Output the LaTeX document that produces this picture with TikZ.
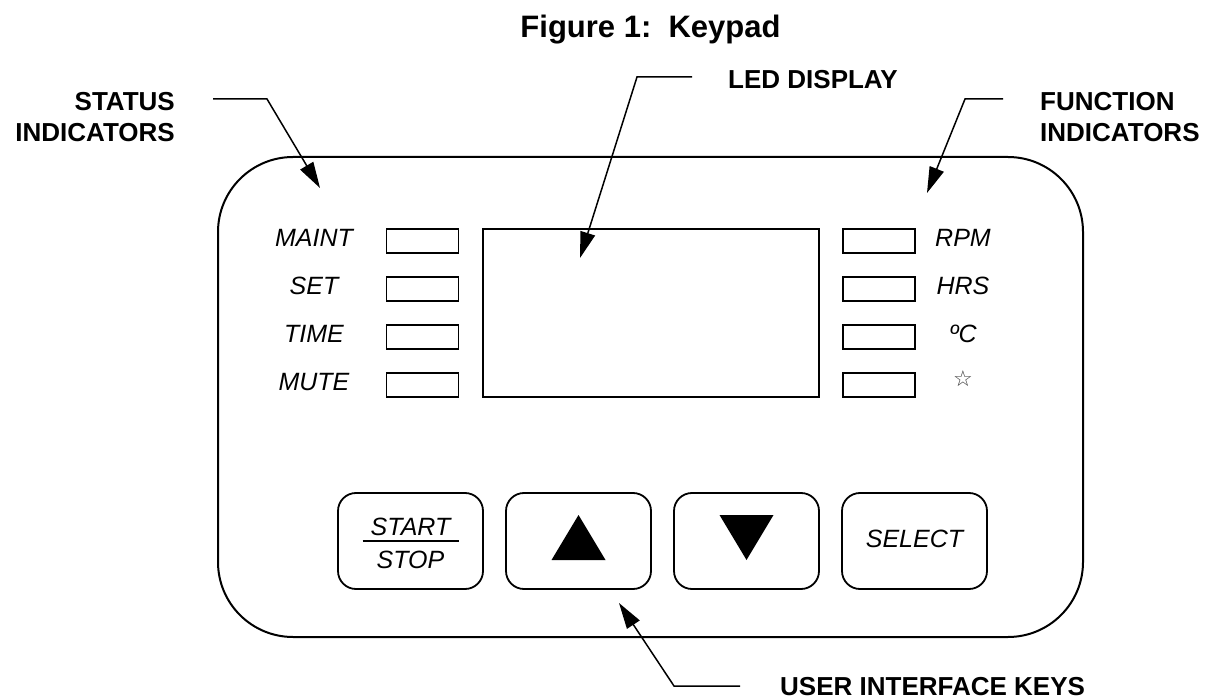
\documentclass[tikz,border=0pt]{standalone}
\usepackage{fontspec}
\setmainfont{Liberation Sans}
\newfontfamily\symfont{DejaVu Sans}
\usetikzlibrary{arrows.meta}
\begin{document}
\begin{tikzpicture}[x=1pt,y=-1pt,
  lbl/.style={font=\fontsize{26}{31}\selectfont\bfseries, inner sep=0pt},
  ital/.style={font=\fontsize{25}{29}\selectfont\itshape, inner sep=0pt, anchor=base},
  ind/.style={draw, line width=1.8pt, minimum width=72pt, minimum height=24pt, inner sep=0pt},
  keybox/.style={draw, line width=1.8pt, rounded corners=18pt, minimum width=145pt, minimum height=96pt, inner sep=0pt},
  lead/.style={line width=1.5pt, -{Triangle[length=26pt,width=15pt]}},
]
\useasboundingbox (0,0) rectangle (1207,700);
\fill[white] (0,0) rectangle (1207,700);

% title
\node[font=\fontsize{31}{37}\selectfont\bfseries, anchor=base, inner sep=0pt] (title) at (650.5,38) {Figure 1:\ \ Keypad};

% panel
\node[draw, line width=2pt, rounded corners=75pt, minimum width=865pt, minimum height=480pt, inner sep=0pt] (panel) at (650.5,397) {};

% LED display
\node[draw, line width=1.8pt, minimum width=336pt, minimum height=168pt, inner sep=0pt] (led) at (651,313) {};

% left indicators
\node[ind] (l1) at (422.5,241) {};
\node[ind] (l2) at (422.5,289) {};
\node[ind] (l3) at (422.5,337) {};
\node[ind] (l4) at (422.5,385) {};
\node[ital] (tl1) at (314,247) {MAINT};
\node[ital] (tl2) at (314,295) {SET};
\node[ital] (tl3) at (314,343) {TIME};
\node[ital] (tl4) at (314,391) {MUTE};

% right indicators
\node[ind] (r1) at (879,241) {};
\node[ind] (r2) at (879,289) {};
\node[ind] (r3) at (879,337) {};
\node[ind] (r4) at (879,385) {};
\node[ital] (tr1) at (963,247) {RPM};
\node[ital] (tr2) at (963,295) {HRS};
\node[ital] (tr3) at (963,343) {ºC};
\node[inner sep=0pt, font=\fontsize{22}{26}\selectfont\symfont, text=black!75] (tr4) at (963,379) {☆};

% keys
\node[keybox] (k1) at (410.5,541) {};
\node[keybox] (k2) at (578.5,541) {};
\node[keybox] (k3) at (746.5,541) {};
\node[keybox] (k4) at (914.5,541) {};
\node[ital] (kstart) at (410.5,535) {START};
\node[ital] (kstop) at (410.5,568) {STOP};
\draw[line width=1.5pt] ([xshift=-48pt]k1.center) -- ([xshift=48pt]k1.center);
\fill ([shift={(0,-26)}]k2.center) -- ([shift={(-27,19)}]k2.center) -- ([shift={(27,19)}]k2.center) -- cycle;
\fill ([shift={(-27,-26)}]k3.center) -- ([shift={(27,-26)}]k3.center) -- ([shift={(0,19)}]k3.center) -- cycle;
\node[ital, anchor=center] (ksel) at (914.5,539) {SELECT};

% callout labels
\node[lbl, align=right, anchor=base east] (stat) at (175,142) {STATUS\\INDICATORS};
\node[lbl, align=left, anchor=base west] (func) at (1040,142) {FUNCTION\\INDICATORS};
\node[lbl, anchor=base west] (ledl) at (728,89) {LED DISPLAY};
\node[lbl, anchor=base west] (userl) at (780,695) {USER INTERFACE KEYS};

% leaders
\coordinate (sA) at (213,99);
\coordinate (sB) at (267,99);
\coordinate (sT) at (320,188);
\draw[lead] (sA) -- (sB) -- (sT);
\coordinate (lA) at (692,77);
\coordinate (lB) at (637,77);
\coordinate (lT) at (580,258);
\draw[lead] (lA) -- (lB) -- (lT);
\coordinate (fA) at (1003,99);
\coordinate (fB) at (965,99);
\coordinate (fT) at (927,193);
\draw[lead] (fA) -- (fB) -- (fT);
\coordinate (uA) at (740,686);
\coordinate (uB) at (674,686);
\coordinate (uT) at (619,603);
\draw[lead] (uA) -- (uB) -- (uT);
\end{tikzpicture}
\end{document}
